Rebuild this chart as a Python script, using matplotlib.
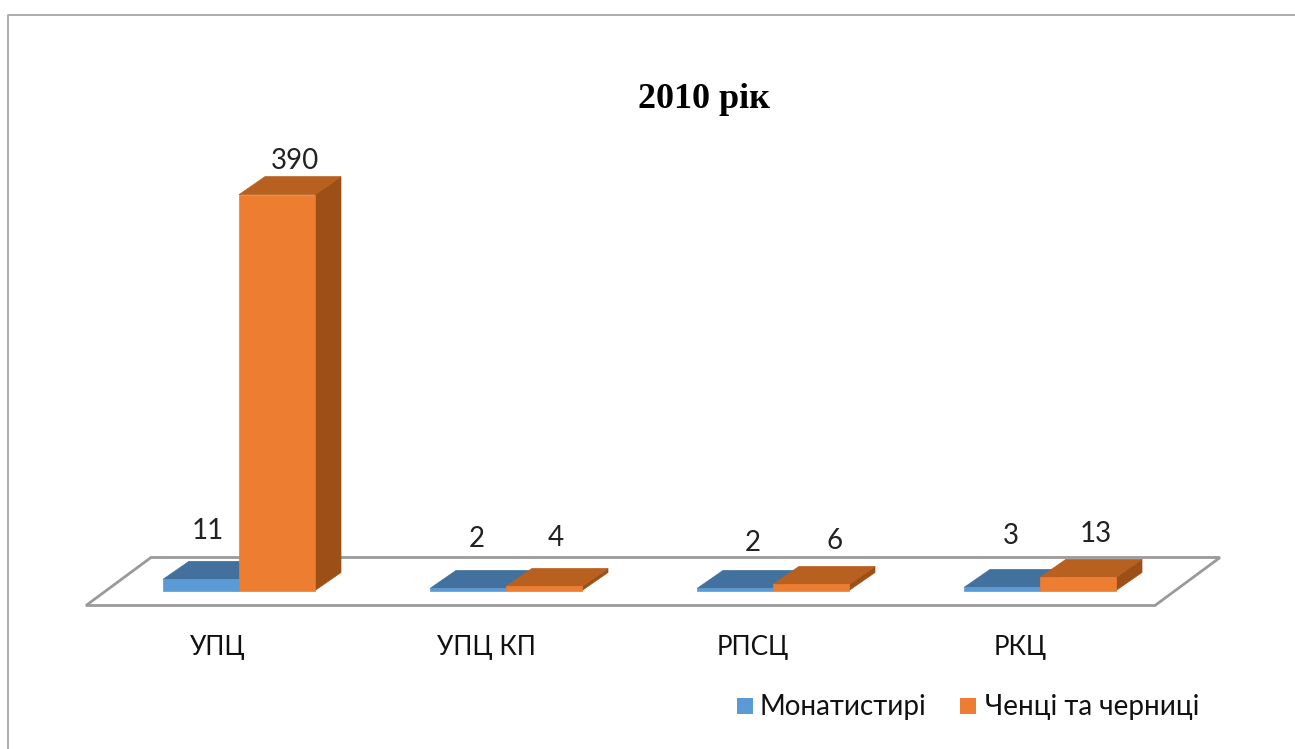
import numpy as np
import matplotlib
matplotlib.use("Agg")
import matplotlib.pyplot as plt
from matplotlib.patches import Polygon, Rectangle

plt.rcParams['font.family'] = ['Lato', 'DejaVu Sans']

#%% datos
categorias = ["УПЦ", "УПЦ КП", "РПСЦ", "РКЦ"]
monastyri = [11, 2, 2, 3]
chentsi = [390, 4, 6, 13]
titulo = "2010 рік"
nombres = ["Монатистирі", "Ченці та черниці"]

#%% escala: 1 categoria = 267 px, 1 unidad = 1.015 px
W, H = 1295, 749
PX_X, PX_Y = 267.0, 1.015
X0, Y0 = 239.0, 590.5   # donde cae categoria 0, valor 0

fig = plt.figure(figsize=(W/100, H/100), dpi=100)
ax = fig.add_axes([0, 0, 1, 1])
ax.set_xlim(-X0/PX_X, (W-X0)/PX_X)
ax.set_ylim(-(H-Y0)/PX_Y, Y0/PX_Y)
ax.axis('off')

dx, dy = 26/PX_X, 18/PX_Y   # profundidad 3D
ancho = 76/PX_X


def px(x, y):
    # pixeles de la imagen -> datos, solo para decoracion y textos
    return (x-X0)/PX_X, (Y0-y)/PX_Y


def barra3d(x, v, frente, arriba, lado):
    ax.add_patch(Polygon([(x+ancho, 0), (x+ancho+dx, dy), (x+ancho+dx, v+dy), (x+ancho, v)],
                         fc=lado, ec=lado, lw=0.5, zorder=3))
    ax.add_patch(Polygon([(x, v), (x+ancho, v), (x+ancho+dx, v+dy), (x+dx, v+dy)],
                         fc=arriba, ec=arriba, lw=0.5, zorder=3))
    ax.add_patch(Rectangle((x, 0), ancho, v, fc=frente, ec=frente, lw=0.5, zorder=3))


#%% marco y piso
ax.plot(*zip(px(8, H), px(8, 15), px(W, 15)), color="#a6a6a6", lw=1.3, zorder=1)
ax.add_patch(Polygon([px(86, 605.5), px(1155, 605.5), px(1220, 557.5), px(151, 557.5)],
                     fc="white", ec="#9a9a9a", lw=2, zorder=1))

#%% barras
for i in range(len(categorias)):
    barra3d(i-ancho, monastyri[i], "#5b9bd5", "#41719c", "#41719c")
for i in range(len(categorias)):
    barra3d(i, chentsi[i], "#ed7d31", "#b8601f", "#9c5018")

#%% etiquetas
txt = dict(fontsize=20, color="#222222", ha="center", va="center", zorder=5)
etiq_y = [(531, 161), (539, 538), (543, 541), (536, 534)]
etiq_x = [(208, 295), (477, 556), (753, 835), (1011, 1096)]
for i in range(len(categorias)):
    ax.text(*px(etiq_x[i][0], etiq_y[i][0]), str(monastyri[i]), **txt)
    ax.text(*px(etiq_x[i][1], etiq_y[i][1]), str(chentsi[i]), **txt)

cat_x = [218, 486, 753, 1020]
for i, c in enumerate(categorias):
    ax.text(*px(cat_x[i], 648), c, fontsize=18.7, color="#111111", ha="center", va="center")

ax.text(*px(704, 99), titulo, fontsize=26, fontweight="bold", family="Liberation Serif",
        color="black", ha="center", va="center")

#%% leyenda
colores = ["#5b9bd5", "#ed7d31"]
cuad_x = [737, 960]
texto_x = [760, 985]
for i in range(2):
    x, y = px(cuad_x[i], 714)
    ax.add_patch(Rectangle((x, y), 16/PX_X, 16/PX_Y, fc=colores[i], ec="none"))
    ax.text(*px(texto_x[i], 707), nombres[i], fontsize=20, color="#111111", ha="left", va="center")

fig.savefig("out.png", dpi=100, facecolor="white")
